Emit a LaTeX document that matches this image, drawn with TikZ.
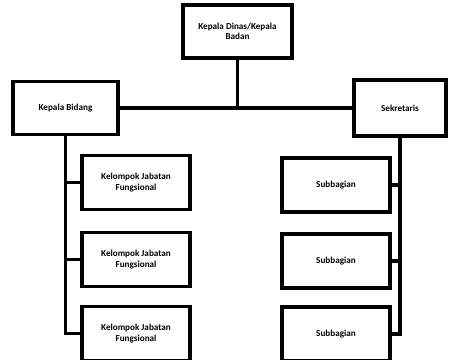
\documentclass[tikz,border=0pt]{standalone}
\usepackage{fontspec}
\setmainfont{Carlito}
\tikzset{%
		kotak/.style={draw,line width=2.6pt,fill=white,align=center,font=\bfseries\fontsize{6.5}{7.5}\selectfont,inner sep=0pt},
		anak/.style={kotak,minimum width=2.7cm,minimum height=1.35cm},
		garis/.style={draw,line width=2.2pt}
	}

\begin{document}
\begin{tikzpicture}[x=0.025cm,y=-0.025cm]
    \useasboundingbox (0,0) rectangle (450,360) ;
    % pimpinan
    \node[kotak,minimum width=2.72cm,minimum height=1.32cm] (kadis) at (237.5,31.5) {Kepala Dinas/Kepala\\Badan} ;
    \node[kotak,minimum width=2.62cm,minimum height=1.32cm] (kabid) at (65.5,108) {Kepala Bidang} ;
    \node[kotak,minimum width=2.3cm,minimum height=1.4cm] (sekre) at (400,108) {Sekretaris} ;
    % kelompok jabatan fungsional
    \node[anak] (kjf1) at (136,182.5) {Kelompok Jabatan\\Fungsional} ;
    \node[anak] (kjf2) at (136,259.5) {Kelompok Jabatan\\Fungsional} ;
    \node[anak] (kjf3) at (136,333.5) {Kelompok Jabatan\\Fungsional} ;
    % subbagian
    \node[anak] (sub1) at (336,185) {Subbagian} ;
    \node[anak] (sub2) at (336,261) {Subbagian} ;
    \node[anak] (sub3) at (336,334) {Subbagian} ;
    % garis
    \draw[garis] (kabid.east) -- (sekre.west) ;
    \draw[garis] (kadis.south) -- (kadis.south |- kabid.east) ;
    \draw[garis] (kabid.south) -- (kabid.south |- kjf3.west) -- (kjf3.west) (kabid.south |- kjf1.west) -- (kjf1.west) (kabid.south |- kjf2.west) -- (kjf2.west) ;
    \draw[garis] (sekre.south) -- (sekre.south |- sub3.east) -- (sub3.east) (sekre.south |- sub1.east) -- (sub1.east) (sekre.south |- sub2.east) -- (sub2.east) ;
\end{tikzpicture}
\end{document}
